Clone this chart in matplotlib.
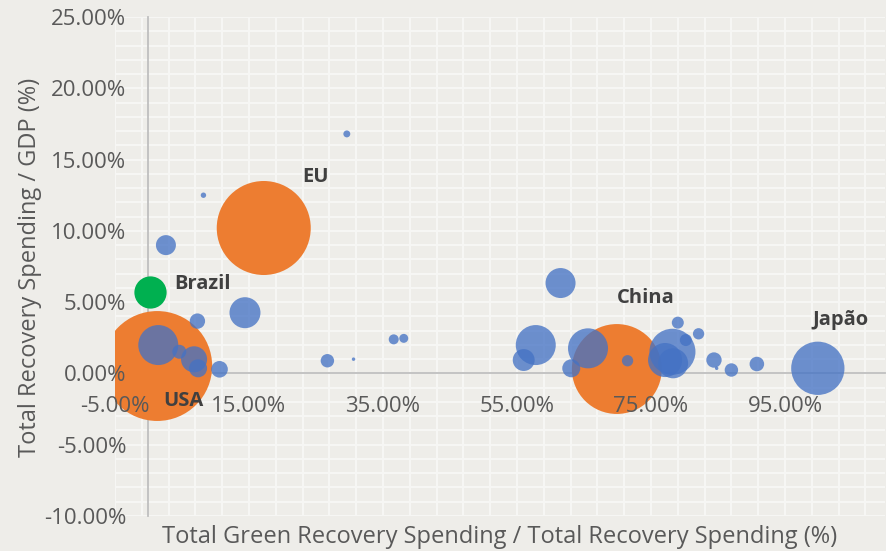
import matplotlib
matplotlib.use("Agg")
import matplotlib.pyplot as plt
import numpy as np

plt.rcParams['font.family'] = ['Open Sans', 'DejaVu Sans']

# ---------------- data ----------------
# x: Total Green Recovery Spending / Total Recovery Spending (%)
# y: Total Recovery Spending / GDP (%)
# size: relative bubble size (area units)
major_names = ["EU", "USA", "China"]
major_x = [17.2, 1.3, 69.9]
major_y = [10.2, 0.52, 0.31]
major_size = [221, 302, 202]

brazil_name = ["Brazil"]
brazil_x = [0.22]
brazil_y = [5.7]
brazil_size = [26]

other_x = [1.46, 4.6, 6.8, 7.4, 7.3, 10.6, 14.4, 2.6, 8.2, 29.6, 26.7, 30.6, 36.6, 38.1,
           57.8, 56.0, 65.6, 63.1, 71.5, 61.5, 78.2, 77.1, 78.3, 79.0, 80.2, 82.1,
           84.4, 84.8, 87.0, 90.8, 99.9]
other_y = [1.99, 1.52, 0.99, 0.36, 3.67, 0.29, 4.26, 9.0, 12.5, 16.8, 0.89, 1.0, 2.39, 2.46,
           1.99, 0.94, 1.76, 0.36, 0.89, 6.34, 1.52, 0.94, 0.71, 3.56, 2.34, 2.78,
           0.94, 0.36, 0.24, 0.66, 0.36]
other_size = [40, 4.9, 17, 8.1, 5.9, 6.9, 24, 10, 0.73, 1.2, 4.5, 0.3, 2.5, 2.0,
              40, 12, 40, 8.1, 3.2, 22.5, 53, 29, 22.5, 3.6, 3.6, 3.2,
              5.9, 0.3, 4.5, 5.3, 71]
other_names = [""] * len(other_x)
other_names[-1] = "Japão"

x_ticks = [-5, 15, 35, 55, 75, 95]
x_ticklabels = ["-5.00%", "15.00%", "35.00%", "55.00%", "75.00%", "95.00%"]
y_ticks = [-10, -5, 0, 5, 10, 15, 20, 25]
y_ticklabels = ["-10.00%", "-5.00%", "0.00%", "5.00%", "10.00%", "15.00%", "20.00%", "25.00%"]

x_label = "Total Green Recovery Spending / Total Recovery Spending (%)"
y_label = "Total Recovery Spending / GDP (%)"

# ---------------- style ----------------
BG = "#EEEDE9"
GRID = "#F7F7F5"
AXISC = "#BFBFBF"
TICKC = "#595959"
LABELC = "#404040"
ORANGE = "#ED7D31"
BLUE = "#4472C4"
GREEN = "#00B050"

DPI = 100
fig = plt.figure(figsize=(8.87, 5.51), dpi=DPI, facecolor=BG)
ax = fig.add_axes([115 / 887, 1 - 516 / 551, (885.5 - 115) / 887, (516 - 17) / 551])
ax.set_facecolor(BG)

ax.set_xlim(-5, 110)
ax.set_ylim(-10, 25)

# gridlines (below everything)
for v in np.arange(-5, 110.01, 4):
    ax.axvline(v, color=GRID, lw=1.4, zorder=0.1)
for h in np.arange(-10, 25.01, 1):
    ax.axhline(h, color=GRID, lw=1.4, zorder=0.1)

K = 10 * (0.72 ** 2) * 4  # size value -> points^2  (r_px^2 = 10*value)

def s_of(vals):
    return [v * K for v in vals]

ax.scatter(major_x, major_y, s=s_of(major_size), color=ORANGE, linewidths=0, zorder=1.0)
ax.scatter(brazil_x, brazil_y, s=s_of(brazil_size), color=GREEN, linewidths=0, zorder=1.05)
ax.scatter(other_x, other_y, s=s_of(other_size), color=BLUE, alpha=0.77, linewidths=0, zorder=1.1)

# data labels
lab_kw = dict(fontsize=14.5, fontweight='bold', color=LABELC, ha='center', va='center',
              textcoords='offset points', zorder=3)
offsets = {"EU": (37, 37), "USA": (19, -25), "China": (21, 51), "Brazil": (38, 6), "Japão": (16, 35)}
for n, x, y in zip(major_names + brazil_name + other_names,
                   major_x + brazil_x + other_x, major_y + brazil_y + other_y):
    if n:
        ax.annotate(n, (x, y), xytext=offsets[n], **lab_kw)

# axes crossing at zero
for side in ["top", "right"]:
    ax.spines[side].set_visible(False)
ax.spines["left"].set_position(("data", 0))
ax.spines["bottom"].set_position(("data", 0))
for side in ["left", "bottom"]:
    ax.spines[side].set_color(AXISC)
    ax.spines[side].set_linewidth(1.3)
    ax.spines[side].set_zorder(0.5)

ax.set_xticks(x_ticks)
ax.set_xticklabels(x_ticklabels)
ax.set_yticks(y_ticks)
ax.set_yticklabels(y_ticklabels)
ax.tick_params(axis='x', length=0, pad=16.5, labelsize=16, labelcolor=TICKC)
ax.tick_params(axis='y', length=0, pad=16, labelsize=16, labelcolor=TICKC)
ax.xaxis.set_zorder(2.5)
ax.yaxis.set_zorder(2.5)

fig.text(499.5 / 887, 1 - 537 / 551, x_label, ha='center', va='center', fontsize=17, color=TICKC)
fig.text(30 / 887, 1 - 267 / 551, y_label, ha='center', va='center', rotation=90, fontsize=17, color=TICKC)

fig.savefig("out.png", dpi=DPI, facecolor=BG)
